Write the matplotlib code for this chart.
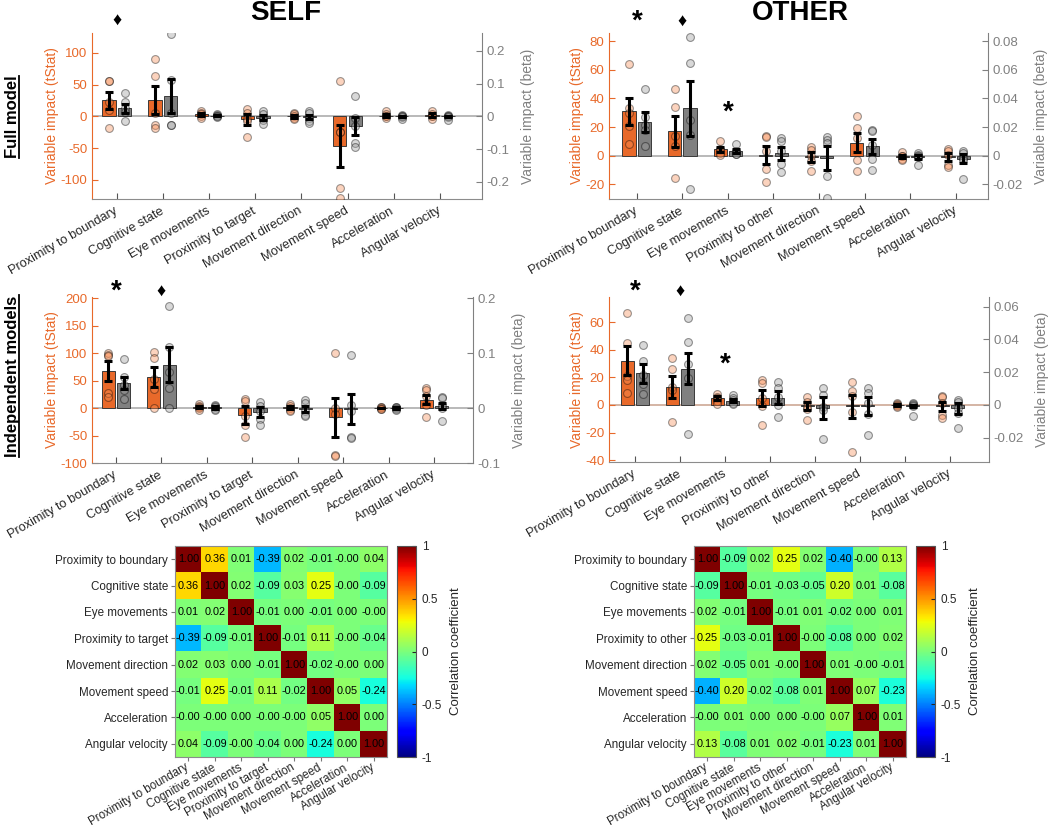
import numpy as np
import matplotlib
matplotlib.use('Agg')
import matplotlib.pyplot as plt
from matplotlib.ticker import FuncFormatter
from matplotlib.lines import Line2D

plt.rcParams['font.family'] = ['Liberation Sans', 'DejaVu Sans']
plt.rcParams['axes.unicode_minus'] = False

ORANGE = '#E8692A'
GREY = '#808080'
TXT = '#262626'

self_vars = ['Proximity to boundary', 'Cognitive state', 'Eye movements', 'Proximity to target',
             'Movement direction', 'Movement speed', 'Acceleration', 'Angular velocity']
other_vars = ['Proximity to boundary', 'Cognitive state', 'Eye movements', 'Proximity to other',
              'Movement direction', 'Movement speed', 'Acceleration', 'Angular velocity']

# ---- SELF, full model ----
self_full_t_mean = [25, 25, 3, -5, 0, -47, 1, 2]
self_full_t_sem = [14, 22, 2.5, 8, 2, 33, 2, 3]
self_full_t_pts = [[56, 55, 22, 10, -18], [90, 64, 5, -13, -18], [9, 5, 3, 0, -3],
                   [12, 6, -4, -8, -33], [5, 3, 0, -3, -5], [55, -25, -25, -112, -128],
                   [8, 4, 1, 0, -3], [8, 4, 1, 0, -5]]
self_full_b_mean = [0.024, 0.062, 0.002, -0.004, -0.002, -0.030, 0.0, 0.0]
self_full_b_sem = [0.014, 0.052, 0.001, 0.008, 0.007, 0.027, 0.002, 0.002]
self_full_b_pts = [[0.070, 0.044, 0.026, 0.012, -0.014], [0.25, 0.11, 0.01, -0.026, -0.028],
                   [0.006, 0.004, 0.002, 0.0, -0.002], [0.016, 0.006, -0.006, -0.012, -0.024],
                   [0.016, 0.01, -0.004, -0.014, -0.02], [0.063, -0.005, -0.03, -0.08, -0.095],
                   [0.004, 0.002, 0.0, -0.003, -0.008], [0.004, 0.002, 0.0, -0.002, -0.01]]

# ---- OTHER, full model ----
other_full_t_mean = [31, 17, 4.5, 0.5, -1, 9, -0.6, -1]
other_full_t_sem = [9.5, 11, 1.8, 6.5, 3.5, 6.5, 1, 2.8]
other_full_t_pts = [[64, 33, 30, 21, 8], [46.5, 34, 13.5, 6.5, -15.6], [10.5, 5, 4, 2, 0.7],
                    [14, 13, 3, -9, -18.6], [5.8, 4.2, 0, -4, -11], [27.4, 19.3, 12.3, -2.8, -10.5],
                    [2.5, 0, -0.5, -2, -2.8], [5, 3.5, 0.7, -6.3, -8]]
other_full_b_mean = [0.0235, 0.033, 0.0032, 0.0016, -0.0015, 0.0065, -0.001, -0.002]
other_full_b_sem = [0.007, 0.019, 0.0013, 0.0043, 0.0085, 0.0055, 0.0013, 0.0033]
other_full_b_pts = [[0.0465, 0.027, 0.0216, 0.018, 0.0065], [0.0825, 0.065, 0.025, 0.0146, -0.023],
                    [0.008, 0.0035, 0.0025, 0.001, 0.001], [0.0123, 0.010, 0.003, -0.0058, -0.0116],
                    [0.0128, 0.011, 0.0088, -0.014, -0.0295], [0.018, 0.017, 0.0077, -0.0023, -0.0102],
                    [0.0019, 0.0007, -0.0005, -0.001, -0.0063], [0.003, 0.002, -0.0016, -0.0028, -0.0163]]

# ---- SELF, independent models ----
self_ind_t_mean = [67, 56, 2, -13, 1, -17, 0, 15]
self_ind_t_sem = [18, 18, 2, 16, 2.5, 35, 0.8, 8]
self_ind_t_pts = [[100, 96, 94, 27, 20], [102, 91.5, 53, 35, 0], [8, 4, 2, 0, -4],
                  [17, 13, -15, -30, -52], [7, 4, 0, -3, -5], [100, 0, -10, -86, -88],
                  [2, 1, 0, -1, -2], [37, 33, 22, 5, -17]]
self_ind_b_mean = [0.045, 0.079, 0.001, -0.007, -0.002, -0.002, 0.0, 0.004]
self_ind_b_sem = [0.011, 0.032, 0.002, 0.009, 0.006, 0.027, 0.001, 0.006]
self_ind_b_pts = [[0.089, 0.056, 0.041, 0.033, 0.017], [0.186, 0.111, 0.065, 0.037, 0.0],
                  [0.005, 0.003, 0.001, -0.001, -0.004], [0.011, 0.004, -0.006, -0.02, -0.03],
                  [0.015, 0.01, -0.005, -0.012, -0.015], [0.096, 0.005, -0.005, -0.053, -0.054],
                  [0.002, 0.001, 0.0, -0.001, -0.003], [0.02, 0.018, 0.005, 0.0, -0.024]]

# ---- OTHER, independent models ----
other_ind_t_mean = [32, 13.3, 4.8, 5, -1, -1, 0, -1]
other_ind_t_sem = [10.5, 8, 1.5, 5.7, 2.9, 8.5, 0.6, 3.2]
other_ind_t_pts = [[66.6, 45, 21, 18, 8.5], [34, 26, 13, 11, -12], [8, 6, 5, 3, 1],
                   [18, 15.7, 4.8, -1, -14.5], [6, 2.4, -1.2, -3, -10.9], [17, 10.4, 6.5, -4.8, -33.9],
                   [1.5, 0.8, 0.2, -0.5, -1.5], [6.5, 5.5, 1.2, -7.3, -9.7]]
other_ind_b_mean = [0.0193, 0.0222, 0.0026, 0.0045, -0.002, -0.0005, -0.0005, -0.002]
other_ind_b_sem = [0.0056, 0.0095, 0.001, 0.0038, 0.0066, 0.0055, 0.0006, 0.0033]
other_ind_b_pts = [[0.0364, 0.0268, 0.0185, 0.0127, 0.0068], [0.053, 0.0386, 0.0248, 0.0163, -0.0177],
                   [0.0061, 0.004, 0.003, 0.001, 0.0005], [0.0142, 0.0102, 0.005, 0.0, -0.0071],
                   [0.0102, 0.0061, -0.0014, -0.003, -0.021], [0.0102, 0.0071, 0.001, -0.0055, -0.0183],
                   [0.001, 0.0005, 0.0, -0.0005, -0.007], [0.003, 0.002, -0.002, -0.005, -0.0142]]

# significance marks: (category index, symbol, data y or None for above the axes)
self_full_sig = [(0, '\u2666', None)]
other_full_sig = [(0, '*', None), (1, '\u2666', None), (2, '*', 30)]
self_ind_sig = [(0, '*', None), (1, '\u2666', None)]
other_ind_sig = [(0, '*', None), (1, '\u2666', None), (2, '*', 29)]

# correlation matrices
self_corr = [[1.00, 0.36, 0.01, -0.39, 0.02, -0.01, -0.0, 0.04],
             [0.36, 1.00, 0.02, -0.09, 0.03, 0.25, -0.0, -0.09],
             [0.01, 0.02, 1.00, -0.01, 0.00, -0.01, 0.00, -0.0],
             [-0.39, -0.09, -0.01, 1.00, -0.01, 0.11, -0.0, -0.04],
             [0.02, 0.03, 0.00, -0.01, 1.00, -0.02, -0.0, 0.00],
             [-0.01, 0.25, -0.01, 0.11, -0.02, 1.00, 0.05, -0.24],
             [-0.0, -0.0, 0.00, -0.0, -0.0, 0.05, 1.00, 0.00],
             [0.04, -0.09, -0.0, -0.04, 0.00, -0.24, 0.00, 1.00]]
other_corr = [[1.00, -0.09, 0.02, 0.25, 0.02, -0.40, -0.0, 0.13],
              [-0.09, 1.00, -0.01, -0.03, -0.05, 0.20, 0.01, -0.08],
              [0.02, -0.01, 1.00, -0.01, 0.01, -0.02, 0.00, 0.01],
              [0.25, -0.03, -0.01, 1.00, -0.0, -0.08, 0.00, 0.02],
              [0.02, -0.05, 0.01, -0.0, 1.00, 0.01, -0.0, -0.01],
              [-0.40, 0.20, -0.02, -0.08, 0.01, 1.00, 0.07, -0.23],
              [-0.0, 0.01, 0.00, 0.00, -0.0, 0.07, 1.00, 0.01],
              [0.13, -0.08, 0.01, 0.02, -0.01, -0.23, 0.01, 1.00]]

W, H = 1050, 827
fig = plt.figure(figsize=(10.5, 8.27), dpi=100)


def pos(l, t, r, b):
    return [l / W, 1 - b / H, (r - l) / W, (b - t) / H]


fmt_g = FuncFormatter(lambda v, p: '%g' % round(v, 6))


def bar_panel(rect, xlim, ylim_t, ylim_b, yticks_t, yticks_b, names,
              t_mean, t_sem, t_pts, b_mean, b_sem, b_pts, sig, sig_y, zero_col):
    ax = fig.add_axes(pos(*rect))
    ax2 = ax.twinx()
    x = np.arange(1, len(names) + 1)
    off, wid = 0.17, 0.29

    ax.axhline(0, color=zero_col, lw=1.1, zorder=1)
    ax.bar(x - off, t_mean, width=wid, color=ORANGE, edgecolor='#3a3a3a', lw=0.7, zorder=2)
    for xi, p in zip(x, t_pts):
        ax.scatter([xi - off] * len(p), p, s=32, facecolor=(0.97, 0.55, 0.33, 0.38),
                   edgecolor=(0, 0, 0, 0.38), lw=0.8, zorder=3)
    ax.errorbar(x - off, t_mean, yerr=t_sem, fmt='none', ecolor='k', elinewidth=2.2,
                capsize=3, capthick=2.2, zorder=4)

    ax2.bar(x + off, b_mean, width=wid, color=GREY, edgecolor='#3a3a3a', lw=0.7, zorder=2)
    for xi, p in zip(x, b_pts):
        ax2.scatter([xi + off] * len(p), p, s=32, facecolor=(0.62, 0.62, 0.62, 0.4),
                    edgecolor=(0, 0, 0, 0.4), lw=0.8, zorder=3)
    ax2.errorbar(x + off, b_mean, yerr=b_sem, fmt='none', ecolor='k', elinewidth=2.2,
                 capsize=3, capthick=2.2, zorder=4)

    ax.set_xlim(*xlim)
    ax.set_ylim(*ylim_t)
    ax2.set_ylim(*ylim_b)
    ax.set_yticks(yticks_t)
    ax2.set_yticks(yticks_b)
    ax.yaxis.set_major_formatter(fmt_g)
    ax2.yaxis.set_major_formatter(fmt_g)
    ax.set_xticks(x)
    ax.set_xticklabels(names, rotation=30, ha='right', va='center', rotation_mode='anchor',
                       fontsize=9.2, color=TXT)
    ax.tick_params(axis='x', direction='in', length=4, color='#555555', pad=8)
    ax.tick_params(axis='y', direction='in', length=4, color=ORANGE, labelcolor=ORANGE, labelsize=9.5)
    ax2.tick_params(axis='y', direction='in', length=4, color=GREY, labelcolor=GREY, labelsize=9.5)
    for s in ['top', 'right']:
        ax.spines[s].set_visible(False)
    for s in ['top', 'left', 'bottom']:
        ax2.spines[s].set_visible(False)
    ax.spines['left'].set_color(ORANGE)
    ax.spines['bottom'].set_color('#8c8c8c')
    ax2.spines['right'].set_color(GREY)
    ax.set_ylabel('Variable impact (tStat)', color=ORANGE, fontsize=10, labelpad=1)
    ax2.set_ylabel('Variable impact (beta)', color=GREY, fontsize=10, labelpad=8)

    for ci, sym, yv in sig:
        size = 20 if sym == '*' else 13
        if yv is None:
            ax.text(x[ci], sig_y, sym, transform=ax.get_xaxis_transform(), ha='center',
                    va='center', fontsize=size, fontweight='bold', color='k', clip_on=False)
        else:
            ax.text(x[ci], yv, sym, ha='center', va='center', fontsize=size,
                    fontweight='bold', color='k')
    return ax


bar_panel((92, 33, 482, 199), (0.465, 8.91), (-130, 131), (-0.2524, 0.2544),
          [-100, -50, 0, 50, 100], [-0.2, -0.1, 0, 0.1, 0.2], self_vars,
          self_full_t_mean, self_full_t_sem, self_full_t_pts,
          self_full_b_mean, self_full_b_sem, self_full_b_pts, self_full_sig, 1.075, '#a6a6a6')
bar_panel((609, 33, 988, 199), (0.39, 8.71), (-30.2, 85.6), (-0.0302, 0.0856),
          [-20, 0, 20, 40, 60, 80], [-0.02, 0, 0.02, 0.04, 0.06, 0.08], other_vars,
          other_full_t_mean, other_full_t_sem, other_full_t_pts,
          other_full_b_mean, other_full_b_sem, other_full_b_pts, other_full_sig, 1.07, '#a6a6a6')
bar_panel((92, 297, 473, 463), (0.47, 8.86), (-100, 202), (-0.1, 0.202),
          [-100, -50, 0, 50, 100, 150, 200], [-0.1, 0, 0.1, 0.2], self_vars,
          self_ind_t_mean, self_ind_t_sem, self_ind_t_pts,
          self_ind_b_mean, self_ind_b_sem, self_ind_b_pts, self_ind_sig, 1.035, '#a6a6a6')
bar_panel((609, 297, 989, 462), (0.42, 8.87), (-41.4, 78.4), (-0.0348, 0.0659),
          [-40, -20, 0, 20, 40, 60], [-0.02, 0, 0.02, 0.04, 0.06], other_vars,
          other_ind_t_mean, other_ind_t_sem, other_ind_t_pts,
          other_ind_b_mean, other_ind_b_sem, other_ind_b_pts, other_ind_sig, 1.035, '#c9a08c')


def heat_panel(rect, cb_rect, names, corr):
    ax = fig.add_axes(pos(*rect))
    cax = fig.add_axes(pos(*cb_rect))
    m = np.array(corr)
    im = ax.imshow(m, cmap='jet', vmin=-1, vmax=1, aspect='auto')
    for i in range(m.shape[0]):
        for j in range(m.shape[1]):
            ax.text(j, i, f'{m[i, j]:.2f}', ha='center', va='center', fontsize=7.8, color='k')
    ax.set_xticks(range(len(names)))
    ax.set_yticks(range(len(names)))
    ax.set_xticklabels(names, rotation=30, ha='right', va='center', rotation_mode='anchor',
                       fontsize=8.4, color=TXT)
    ax.set_yticklabels(names, fontsize=8.4, color=TXT)
    ax.tick_params(direction='out', length=3, color='#777777', pad=2)
    ax.tick_params(axis='x', pad=4)
    for s in ax.spines.values():
        s.set_color('#8c8c8c')
    cb = fig.colorbar(im, cax=cax, ticks=[-1, -0.5, 0, 0.5, 1], format=fmt_g)
    cb.ax.tick_params(labelsize=8.5, direction='in', length=3, colors=TXT, pad=4)
    cb.outline.set_edgecolor('#555555')
    cb.set_label('Correlation coefficient', fontsize=9.5, color=TXT, labelpad=6)


heat_panel((175, 546, 387, 757), (397, 546, 416, 757), self_vars, self_corr)
heat_panel((694, 546, 906, 757), (916, 546, 935, 757), other_vars, other_corr)

fig.text(286 / W, 1 - 13 / H, 'SELF', ha='center', va='center', fontsize=20, fontweight='bold')
fig.text(800 / W, 1 - 13 / H, 'OTHER', ha='center', va='center', fontsize=20, fontweight='bold')

row_labels = [fig.text(13 / W, 1 - 117 / H, 'Full model', rotation=90, ha='center', va='center',
                       fontsize=12, fontweight='bold'),
              fig.text(13 / W, 1 - 376 / H, 'Independent models', rotation=90, ha='center',
                       va='center', fontsize=12, fontweight='bold')]

fig.canvas.draw()
rend = fig.canvas.get_renderer()
for t in row_labels:
    bb = t.get_window_extent(rend)
    xl = (bb.x1 - 1.5) / W
    fig.add_artist(Line2D([xl, xl], [bb.y0 / H, bb.y1 / H], transform=fig.transFigure,
                          color='k', lw=1.3))

fig.savefig('out.png', dpi=100)
